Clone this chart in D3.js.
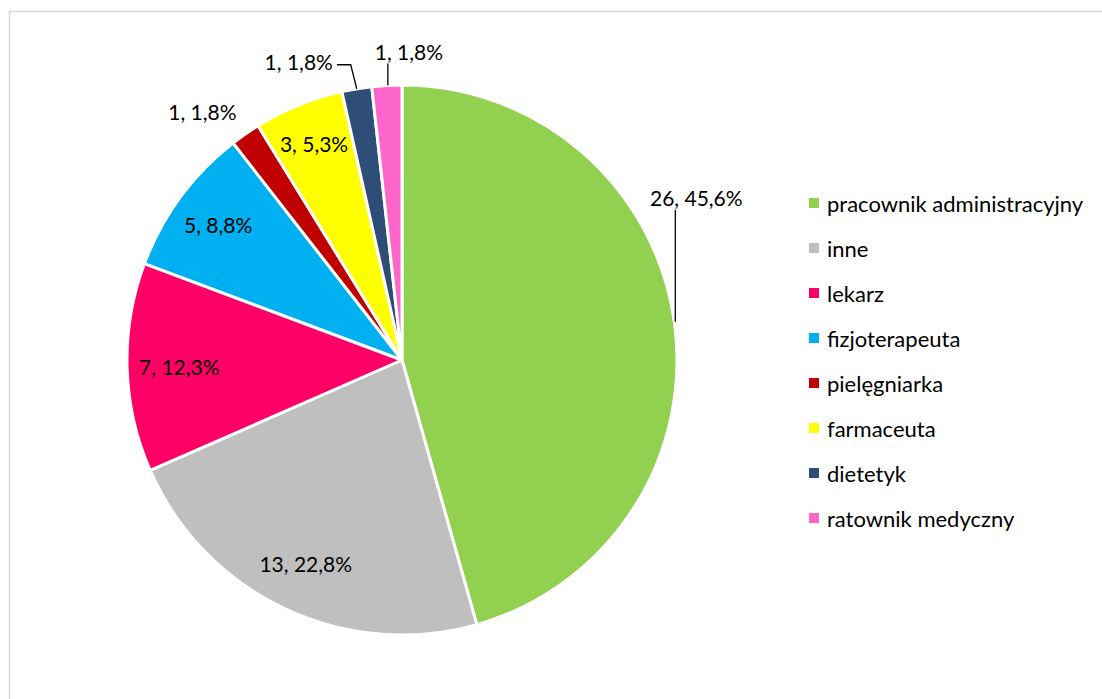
<!DOCTYPE html>
<html>
<head>
<meta charset="utf-8">
<script src="https://cdn.jsdelivr.net/npm/d3@7"></script>
<style>
  html, body { margin: 0; padding: 0; background: #fff; }
  svg { display: block; }
  text { font-family: Lato, "Open Sans", sans-serif; fill: #000; }
</style>
</head>
<body>
<svg id="chart" width="1102" height="699"></svg>
<script>
// Respondents by profession
const categories = [
  "pracownik administracyjny", "inne", "lekarz", "fizjoterapeuta",
  "pielęgniarka", "farmaceuta", "dietetyk", "ratownik medyczny"
];
const counts = [26, 13, 7, 5, 1, 3, 1, 1];
const percentLabels = ["45,6%", "22,8%", "12,3%", "8,8%", "1,8%", "5,3%", "1,8%", "1,8%"];
const colors = ["#92D050", "#BFBFBF", "#FF0066", "#00B0F0", "#C00000", "#FFFF00", "#2E4D77", "#FF66CC"];

const W = 1102, H = 699;
const cx = 402, cy = 360, R = 275;
const labelFont = 21;
const legendFont = 22;

const svg = d3.select("#chart");

// chart-area frame
svg.append("rect")
  .attr("x", 9.5).attr("y", 11.5)
  .attr("width", W).attr("height", H)
  .attr("fill", "#fff").attr("stroke", "#D9D9D9").attr("stroke-width", 1.5);

const data = categories.map((c, i) => ({ name: c, value: counts[i], pct: percentLabels[i], color: colors[i] }));

const pie = d3.pie().value(d => d.value).sort(null);
const arcs = pie(data);
const arc = d3.arc().innerRadius(0).outerRadius(R);

const g = svg.append("g").attr("transform", `translate(${cx},${cy})`);

g.selectAll("path.slice")
  .data(arcs)
  .enter().append("path")
  .attr("class", "slice")
  .attr("d", arc)
  .attr("fill", d => d.data.color)
  .attr("stroke", "#fff")
  .attr("stroke-width", 3)
  .attr("stroke-linejoin", "round");

// point on a circle of radius r at angle a (radians, clockwise from 12 o'clock)
const polar = (a, r) => [r * Math.sin(a), -r * Math.cos(a)];
const mid = d => (d.startAngle + d.endAngle) / 2;

// label placement: inside slices along the mid angle, or outside with a leader line
const placement = {
  "pracownik administracyjny": { type: "out", anchorAngle: 82, dx: 22, dy: -124, path: "vertical" },
  "inne": { type: "in", k: 0.82 },
  "lekarz": { type: "in", k: 0.81 },
  "fizjoterapeuta": { type: "in", k: 0.83 },
  "pielęgniarka": { type: "free", k: 1.16, da: -4 },
  "farmaceuta": { type: "in", k: 0.85 },
  "dietetyk": { type: "out", dx: -58, dy: -27, path: "elbow" },
  "ratownik medyczny": { type: "out", dx: 22, dy: -34, path: "vertical" }
};

const labelG = g.append("g");

arcs.forEach(d => {
  const p = placement[d.data.name];
  const text = `${d.data.value}, ${d.data.pct}`;
  let lx, ly;
  let leader = null;
  if (p.type === "in") {
    [lx, ly] = polar(mid(d), R * p.k);
  } else if (p.type === "free") {
    [lx, ly] = polar(mid(d) + p.da * Math.PI / 180, R * p.k);
  } else {
    const a = p.anchorAngle != null ? p.anchorAngle * Math.PI / 180 : mid(d);
    const [ax, ay] = polar(a, R);
    lx = ax + p.dx; ly = ay + p.dy;
    leader = { ax, ay, path: p.path };
  }
  const t = labelG.append("text")
    .attr("x", lx).attr("y", ly)
    .attr("text-anchor", "middle")
    .attr("dominant-baseline", "central")
    .attr("font-size", labelFont)
    .text(text);
  if (leader) {
    const { ax, ay } = leader;
    let pts;
    if (leader.path === "vertical") {
      pts = [[ax + 1, ay], [ax + 1, ly + 12]];
    } else {
      const textRight = lx + t.node().getComputedTextLength() / 2;
      pts = [[ax, ay], [ax - 6, ly + 3], [textRight + 4, ly + 3]];
    }
    labelG.append("path")
      .attr("d", d3.line()(pts))
      .attr("fill", "none")
      .attr("stroke", "#000")
      .attr("stroke-width", 1.3);
  }
});

// legend
const legend = svg.append("g").attr("transform", "translate(809,203)");
const rowH = 45;
const items = legend.selectAll("g.item")
  .data(data)
  .enter().append("g")
  .attr("class", "item")
  .attr("transform", (d, i) => `translate(0,${i * rowH})`);
items.append("rect")
  .attr("x", 0).attr("y", -5)
  .attr("width", 10).attr("height", 10)
  .attr("fill", d => d.color);
items.append("text")
  .attr("x", 18).attr("y", 0)
  .attr("dominant-baseline", "central")
  .attr("font-size", legendFont)
  .text(d => d.name);
</script>
</body>
</html>
